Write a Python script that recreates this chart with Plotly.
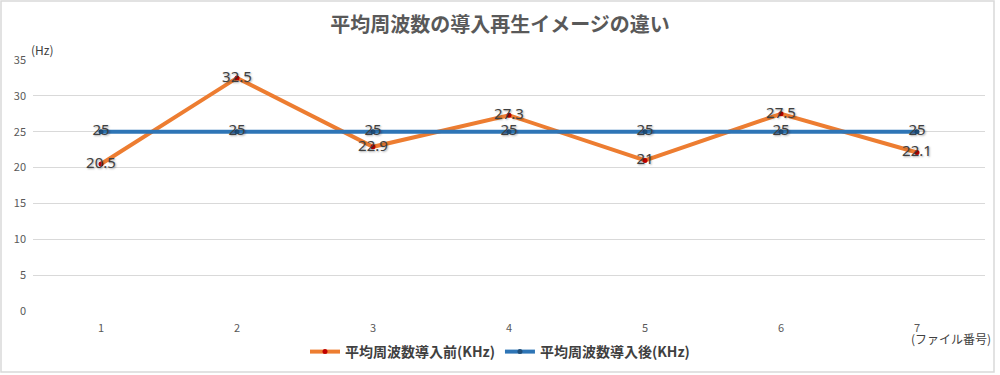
import plotly.graph_objects as go

files = [1, 2, 3, 4, 5, 6, 7]
before = [20.5, 32.5, 22.9, 27.3, 21, 27.5, 22.1]
after = [25, 25, 25, 25, 25, 25, 25]
name_before = "平均周波数導入前(KHz)"
name_after = "平均周波数導入後(KHz)"
title = "平均周波数の導入再生イメージの違い"

W, H = 1000, 375
ml, mr, mt, mb = 33, 15, 60, 64
pw, ph = W - ml - mr, H - mt - mb

font_jp = "Noto Sans CJK JP, Noto Sans, sans-serif"
label_font = dict(family="Noto Sans, DejaVu Sans, sans-serif", size=15, color="#404040",
                  shadow="1px 1px 2px rgba(0,0,0,0.35)")

fig = go.Figure()
fig.add_trace(go.Scatter(
    x=files, y=before, name=name_before, mode="lines+markers+text",
    line=dict(color="#ED7D31", width=4),
    marker=dict(color="#C00000", size=5),
    text=[str(v) for v in before], textposition="middle center",
    textfont=label_font,
))
fig.add_trace(go.Scatter(
    x=files, y=after, name=name_after, mode="lines+markers+text",
    line=dict(color="#2E75B6", width=4),
    marker=dict(color="#1F4E79", size=5),
    text=[str(v) for v in after], textposition="middle center",
    textfont=label_font,
))

fig.update_layout(
    width=W, height=H,
    margin=dict(l=ml, r=mr, t=mt, b=mb, autoexpand=False),
    paper_bgcolor="white", plot_bgcolor="white",
    font=dict(family=font_jp, color="#595959"),
    title=dict(text=title, x=0.5, xanchor="center",
               y=1 - 25 / H, yanchor="middle", yref="container",
               font=dict(size=20, color="#595959", family=font_jp, weight="bold")),
    showlegend=True,
    legend=dict(orientation="h", x=0.5, xanchor="center", xref="container",
                y=1 - 352 / H, yanchor="middle", yref="container",
                font=dict(size=14, color="#404040", family=font_jp, weight="bold"),
                itemwidth=30, traceorder="normal"),
    xaxis=dict(range=[0.5, 7.5], tickmode="array", tickvals=files,
               ticktext=[str(f) for f in files], showgrid=False, zeroline=False,
               showline=False, ticks="", ticklabelstandoff=9, automargin=False,
               tickfont=dict(size=11, color="#595959")),
    yaxis=dict(range=[0, 35], dtick=5, showgrid=True, gridcolor="#D9D9D9", gridwidth=1,
               zeroline=False, showline=False, ticks="", ticklabelstandoff=6,
               automargin=False, tickfont=dict(size=11, color="#595959")),
)

fig.add_annotation(text="(Hz)", xref="paper", yref="paper",
                   x=(42 - ml) / pw, y=(311 - 49) / ph, showarrow=False,
                   xanchor="center", yanchor="middle",
                   font=dict(size=12, color="#404040", family=font_jp))
fig.add_annotation(text="(ファイル番号)", xref="paper", yref="paper",
                   x=(951 - ml) / pw, y=-(338 - 311) / ph, showarrow=False,
                   xanchor="center", yanchor="middle",
                   font=dict(size=12, color="#404040", family=font_jp))

# chart border
fig.add_shape(type="rect", xref="paper", yref="paper",
              x0=-(ml - 1) / pw, x1=1 + (mr - 6) / pw,
              y0=-(mb - 3) / ph, y1=1 + (mt - 1) / ph,
              line=dict(color="#D9D9D9", width=1.5), fillcolor="rgba(0,0,0,0)", layer="below")

fig.write_html(
    "out.html",
    config={"displayModeBar": False},
    post_script=(
        "document.documentElement.style.margin='0';"
        "document.documentElement.style.overflow='hidden';"
        "document.body.style.margin='0';"
        "document.body.style.overflow='hidden';"
    ),
)
